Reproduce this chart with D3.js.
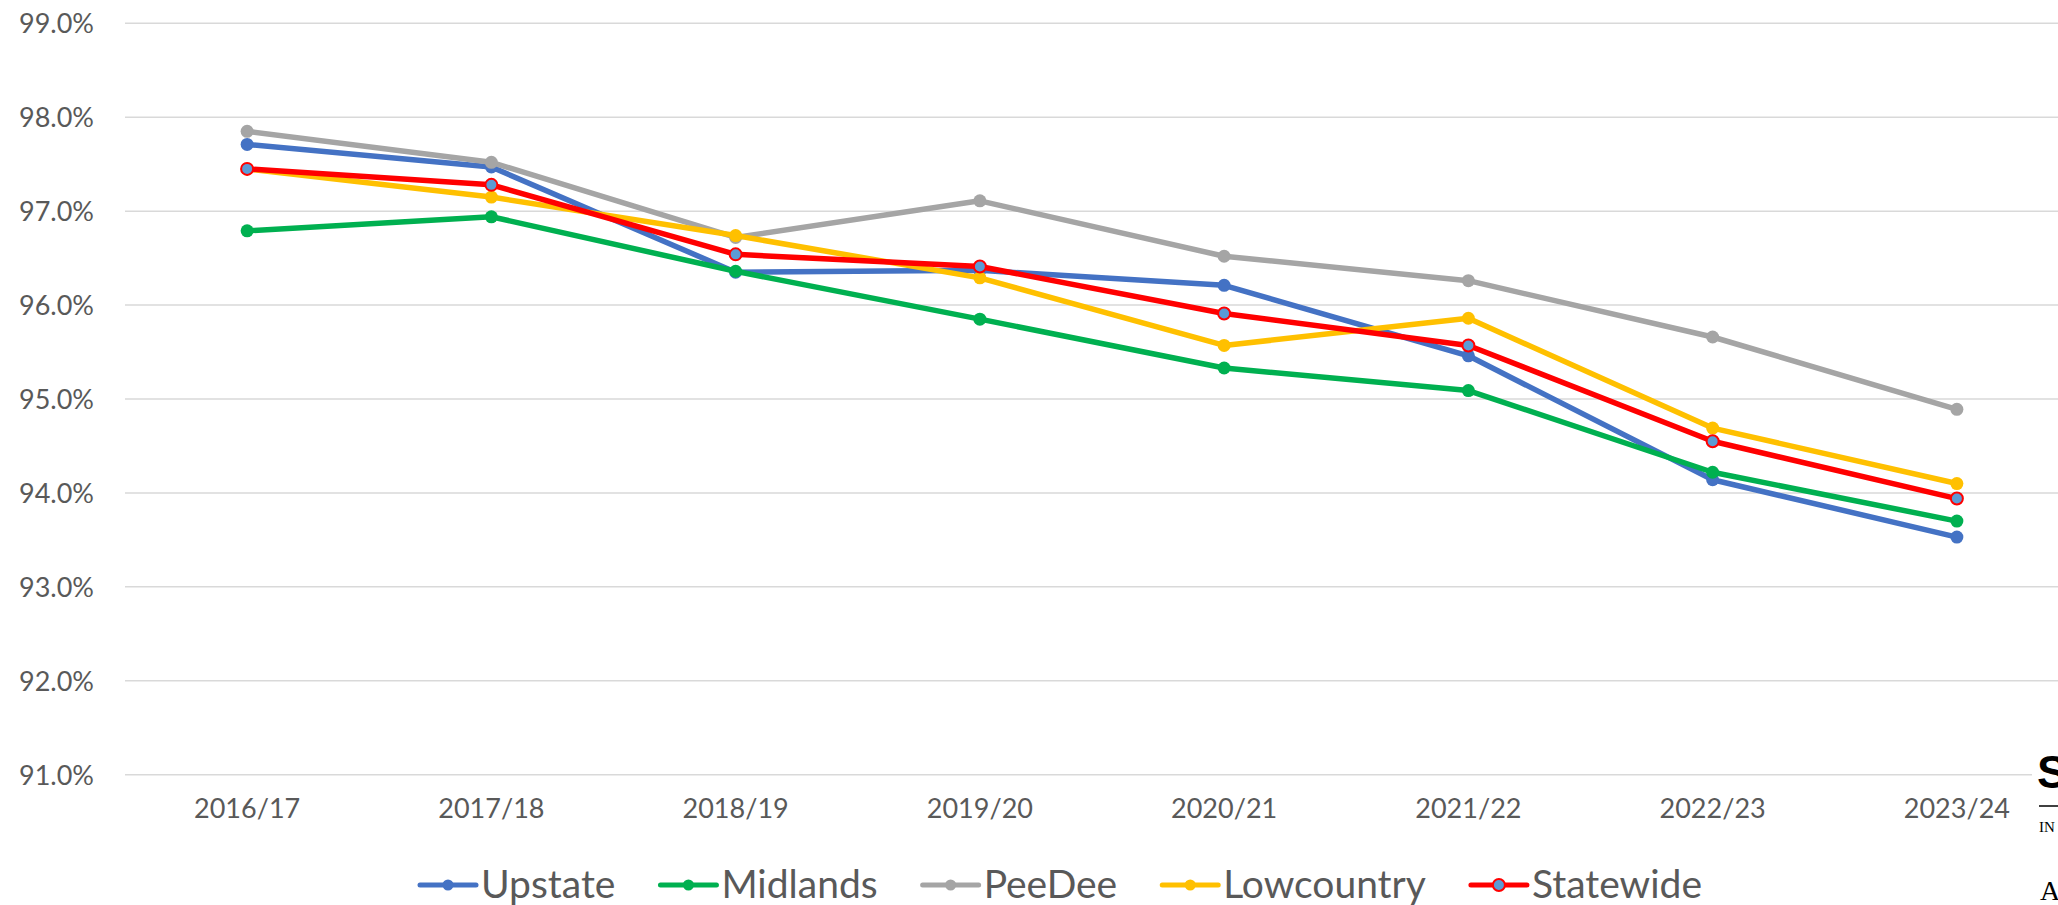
<!DOCTYPE html>
<html>
<head>
<meta charset="utf-8">
<script src="https://cdn.jsdelivr.net/npm/d3@7"></script>
<style>
  html, body { margin: 0; padding: 0; background: #ffffff; overflow: hidden; }
  svg { display: block; }
</style>
</head>
<body>
<svg id="chart" width="2058" height="905"></svg>
<script>
// ---- data ----
const categories = ["2016/17", "2017/18", "2018/19", "2019/20", "2020/21", "2021/22", "2022/23", "2023/24"];
const seriesNames = ["Upstate", "Midlands", "PeeDee", "Lowcountry", "Statewide"];
const upstate    = [97.71, 97.47, 96.35, 96.37, 96.21, 95.46, 94.14, 93.53];
const midlands   = [96.79, 96.94, 96.36, 95.85, 95.33, 95.09, 94.22, 93.70];
const peedee     = [97.85, 97.52, 96.72, 97.11, 96.52, 96.26, 95.66, 94.89];
const lowcountry = [97.45, 97.15, 96.74, 96.29, 95.57, 95.86, 94.69, 94.10];
const statewide  = [97.45, 97.28, 96.54, 96.41, 95.91, 95.57, 94.55, 93.94];
const yTicks = [91, 92, 93, 94, 95, 96, 97, 98, 99];
const lineColors   = ["#4472C4", "#00B050", "#A5A5A5", "#FFC000", "#FF0000"];
const markerFills  = ["#4472C4", "#00B050", "#A5A5A5", "#FFC000", "#5B9BD5"];
const markerStroke = ["none", "none", "none", "none", "#FF0000"];

const seriesValues = [upstate, midlands, peedee, lowcountry, statewide];
const series = seriesNames.map((name, i) => ({
  name, values: seriesValues[i], color: lineColors[i], fill: markerFills[i], stroke: markerStroke[i]
}));

const svg = d3.select("#chart");
const font = "Lato, 'Open Sans', sans-serif";
const textColor = "#595959";

const x = d3.scaleBand().domain(categories).range([125, 2079]).padding(0);
const xc = d => x(d) + x.bandwidth() / 2;
const y = d3.scaleLinear().domain([91, 99]).range([774.7, 23.3]);

// gridlines
const grid = svg.append("g");
grid.selectAll("line").data(yTicks).join("line")
  .attr("x1", 125).attr("x2", d => d === 91 ? 2032 : 2058)
  .attr("y1", d => y(d)).attr("y2", d => y(d))
  .attr("stroke", "#D9D9D9").attr("stroke-width", 1.5);

// y axis labels
const yAxis = d3.axisLeft(y).tickValues(yTicks).tickSize(0).tickPadding(0)
  .tickFormat(d => d.toFixed(1) + "%");
const gy = svg.append("g").attr("transform", "translate(94,0)").call(yAxis);
gy.select(".domain").remove();
gy.selectAll("text").attr("font-family", font).attr("font-size", 27)
  .attr("fill", textColor).attr("dy", "0.35em");

// x axis labels
const xAxis = d3.axisBottom(x).tickSize(0).tickPadding(0);
const gx = svg.append("g").attr("transform", "translate(0,799)").call(xAxis);
gx.select(".domain").remove();
gx.selectAll("text").attr("font-family", font).attr("font-size", 27)
  .attr("fill", textColor).attr("dy", "0.71em");

// lines
const line = d3.line().x((d, i) => xc(categories[i])).y(d => y(d));
const gl = svg.append("g");
series.forEach(s => {
  gl.append("path").datum(s.values).attr("d", line)
    .attr("fill", "none").attr("stroke", s.color).attr("stroke-width", 5.5)
    .attr("stroke-linejoin", "round").attr("stroke-linecap", "round");
  gl.append("g").selectAll("circle").data(s.values).join("circle")
    .attr("cx", (d, i) => xc(categories[i])).attr("cy", d => y(d))
    .attr("r", s.stroke === "none" ? 6.5 : 6)
    .attr("fill", s.fill)
    .attr("stroke", s.stroke === "none" ? null : s.stroke)
    .attr("stroke-width", 2);
});

// legend
const legend = svg.append("g");
let lx = 420;
const ly = 885;
series.forEach(s => {
  const g = legend.append("g");
  g.append("line").attr("x1", lx).attr("x2", lx + 56).attr("y1", ly).attr("y2", ly)
    .attr("stroke", s.color).attr("stroke-width", 5).attr("stroke-linecap", "round");
  g.append("circle").attr("cx", lx + 28).attr("cy", ly).attr("r", s.stroke === "none" ? 5.5 : 6)
    .attr("fill", s.fill).attr("stroke", s.stroke === "none" ? null : s.stroke).attr("stroke-width", 2);
  const t = g.append("text").attr("x", lx + 61).attr("y", 898)
    .attr("font-family", font).attr("font-size", 39).attr("fill", textColor).text(s.name);
  lx = lx + 61 + t.node().getComputedTextLength() + 45;
});

// partially visible logo at right edge
const logo = svg.append("g");
logo.append("rect").attr("x", 2033).attr("y", 745).attr("width", 25).attr("height", 160).attr("fill", "#fff");
logo.append("text").attr("x", 2037).attr("y", 788).attr("font-family", "'Liberation Sans', Arial, sans-serif")
  .attr("font-weight", "bold").attr("font-size", 46).attr("fill", "#000").text("S");
logo.append("line").attr("x1", 2039).attr("x2", 2058).attr("y1", 806).attr("y2", 806)
  .attr("stroke", "#000").attr("stroke-width", 1.5);
logo.append("text").attr("x", 2039).attr("y", 832).attr("font-family", "'Liberation Serif', serif")
  .attr("font-size", 15).attr("fill", "#000").text("IN");
logo.append("text").attr("x", 2040).attr("y", 900).attr("font-family", "'Liberation Serif', serif")
  .attr("font-size", 28).attr("fill", "#000").text("A");
</script>
</body>
</html>
